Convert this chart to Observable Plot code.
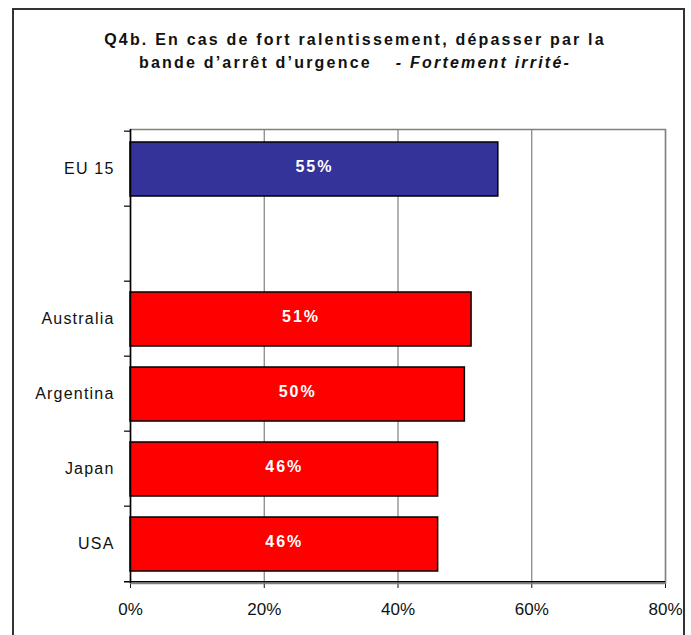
<!DOCTYPE html>
<html>
<head>
<meta charset="utf-8">
<script src="https://cdn.jsdelivr.net/npm/d3@7"></script>
<script src="https://cdn.jsdelivr.net/npm/@observablehq/plot@0.6"></script>
<style>
  html, body { margin: 0; padding: 0; background: #fff; }
  #wrap { position: relative; width: 691px; height: 635px; overflow: hidden; font-family: "Liberation Sans", Arial, sans-serif; }
  #frame { position: absolute; left: 12px; top: 8px; width: 669px; height: 700px; border: 2px solid #333; }
  #title { position: absolute; left: 40px; width: 630px; top: 28px; text-align: center; font-weight: bold; font-size: 16px; line-height: 23px; letter-spacing: 2.2px; color: #111; white-space: nowrap; }
  #title .sub { font-style: italic; margin-left: 24px; }
  #chart { position: absolute; left: 0; top: 100px; }
  #chart svg g[aria-label^="y-axis"] text { font-size: 16px; letter-spacing: 1.2px; fill: #111; }
  #chart svg g[aria-label^="x-axis"] text { font-size: 17px; fill: #111; }
  #chart svg g[aria-label="text"] text { letter-spacing: 2px; }
</style>
</head>
<body>
<div id="wrap">
  <div id="frame"></div>
  <div id="title">Q4b. En cas de fort ralentissement, dépasser par la<br>bande d’arrêt d’urgence<span class="sub">- Fortement irrité-</span></div>
  <div id="chart"></div>
</div>
<script>
const categories = ["EU 15", "Australia", "Argentina", "Japan", "USA"];
const values = [55, 51, 50, 46, 46];
const xTicks = [0, 20, 40, 60, 80];
const gridTicks = [20, 40, 60, 80];

const data = categories.map((c, i) => ({country: c, value: values[i], group: c === "EU 15" ? "EU" : "Country"}));
// band order: EU 15, an empty spacer band, then the countries
const yDomain = [categories[0], " ", ...categories.slice(1)];

const W = 691, H = 535;
const mTop = 29, mBottom = 52, mLeft = 130, mRight = 26;
const bw = (H - mTop - mBottom) / yDomain.length;

const chart = Plot.plot({
  width: W,
  height: H,
  marginTop: mTop,
  marginBottom: mBottom,
  marginLeft: mLeft,
  marginRight: mRight,
  style: {fontFamily: "'Liberation Sans', Arial, sans-serif", fontSize: "16px", background: "transparent", color: "#111"},
  x: {domain: [0, 80], ticks: xTicks, tickFormat: d => d + "%", tickSize: 5, tickPadding: 14, label: null},
  y: {domain: yDomain, padding: 0, tickSize: 0, tickPadding: 16, label: null},
  color: {domain: ["EU", "Country"], range: ["#333399", "#ff0000"]},
  marks: [
    Plot.frame({stroke: "#808080", strokeWidth: 1.5}),
    Plot.ruleX(gridTicks, {stroke: "#808080", strokeWidth: 1.2}),
    Plot.barX(data, {x: "value", y: "country", fill: "group", stroke: "black", strokeWidth: 1.5, insetTop: 11, insetBottom: 10}),
    Plot.text(data, {x: d => d.value / 2, y: "country", text: d => d.value + "%", fill: "white", fontWeight: "bold", fontSize: 16, dy: -2}),
    Plot.ruleY(yDomain, {y: d => d, x1: -0.9, x2: 0, dy: -bw / 2, stroke: "black", strokeWidth: 1.2}),
    Plot.ruleY([yDomain[yDomain.length - 1]], {y: d => d, x1: -0.9, x2: 80, dy: bw / 2, stroke: "black", strokeWidth: 1.5}),
    Plot.ruleX([0], {stroke: "black", strokeWidth: 1.5})
  ]
});
document.getElementById("chart").appendChild(chart);
</script>
</body>
</html>
